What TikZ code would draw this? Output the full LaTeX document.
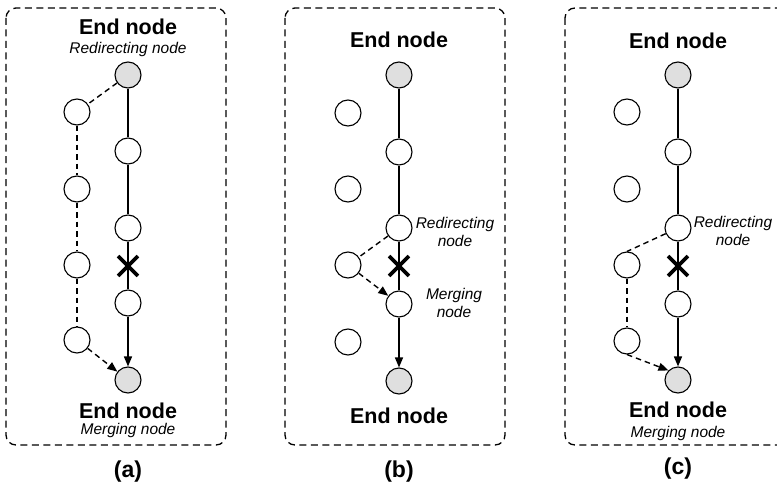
\documentclass[tikz,border=0pt]{standalone}
\usepackage{fontspec}
\setmainfont{Liberation Sans}
\usetikzlibrary{arrows.meta,shapes.misc}
\begin{document}
\begin{tikzpicture}[x=1pt,y=-1pt,
  vtx/.style={circle,draw,line width=1.1pt,minimum size=26pt,inner sep=0pt,fill=white},
  endv/.style={vtx,fill=gray!25},
  frame/.style={draw,dash pattern=on 7pt off 4.5pt,line width=1.3pt,rounded corners=10pt},
  mainln/.style={line width=1.5pt},
  altln/.style={line width=1.4pt,dash pattern=on 5.5pt off 4pt},
  tip/.style={-{Triangle[length=10pt,width=8pt]}},
  cut/.style={cross out,draw,line width=3.8pt,minimum size=16pt,inner sep=0pt},
  title/.style={font=\fontsize{21.5}{24}\selectfont\bfseries,anchor=base},
  role/.style={font=\fontsize{15.5}{18}\selectfont\itshape,anchor=base},
  caption/.style={font=\fontsize{23}{26}\selectfont\bfseries,anchor=base}]

\path[use as bounding box,clip] (0,0) rectangle (777,487);

% panel frames
\draw[frame] (6,8) rectangle (226,445);
\draw[frame] (285,8) rectangle (505,445);
\draw[frame] (565,8) rectangle (800,445);

% ---------- panel (a) ----------
\node[endv] (a0) at (128,75) {};
\node[vtx]  (a1) at (128,151) {};
\node[vtx]  (a2) at (128,228) {};
\node[vtx]  (a3) at (128,303) {};
\node[endv] (a4) at (128,380) {};
\node[vtx] (al1) at (77,112) {};
\node[vtx] (al2) at (77,189) {};
\node[vtx] (al3) at (77,265) {};
\node[vtx] (al4) at (77,340) {};
\draw[mainln] (a0) -- (a1);
\draw[mainln] (a1) -- (a2);
\draw[mainln] (a2) -- (a3);
\draw[mainln,tip] (a3) -- (a4);
\node[cut] (ax) at (128,266) {};
\draw[altln] (a0) -- (al1);
\draw[altln] (al1) -- (al2);
\draw[altln] (al2) -- (al3);
\draw[altln] (al3) -- (al4);
\draw[altln,tip] (al4) -- (a4);
\node[title] (at1) at (128,35) {End node};
\node[role]  (at2) at (128,54) {Redirecting node};
\node[title] (ab1) at (128,418) {End node};
\node[role]  (ab2) at (128,434) {Merging node};
\node[caption] (acap) at (128,477) {(a)};

% ---------- panel (b) ----------
\node[endv] (b0) at (399,75) {};
\node[vtx]  (b1) at (399,152) {};
\node[vtx]  (b2) at (399,228) {};
\node[vtx]  (b3) at (399,304) {};
\node[endv] (b4) at (399,381) {};
\node[vtx] (bl1) at (348,113) {};
\node[vtx] (bl2) at (348,189) {};
\node[vtx] (bl3) at (348,265) {};
\node[vtx] (bl4) at (348,342) {};
\draw[mainln] (b0) -- (b1);
\draw[mainln] (b1) -- (b2);
\draw[mainln] (b2) -- (b3);
\draw[mainln,tip] (b3) -- (b4);
\node[cut] (bx) at (399,266) {};
\draw[altln] (b2) -- (bl3);
\draw[altln,tip] (bl3) -- (b3);
\node[title] (bt1) at (399,48) {End node};
\node[title] (bb1) at (399,423) {End node};
\node[role] (br1) at (455,228) {Redirecting};
\node[role] (br2) at (455,246) {node};
\node[role] (bm1) at (454,299) {Merging};
\node[role] (bm2) at (454,317) {node};
\node[caption] (bcap) at (399,477) {(b)};

% ---------- panel (c) ----------
\node[endv] (c0) at (678,75) {};
\node[vtx]  (c1) at (678,152) {};
\node[vtx]  (c2) at (678,228) {};
\node[vtx]  (c3) at (678,304) {};
\node[endv] (c4) at (678,380) {};
\node[vtx] (cl1) at (627,112) {};
\node[vtx] (cl2) at (627,189) {};
\node[vtx] (cl3) at (627,265) {};
\node[vtx] (cl4) at (627,341) {};
\draw[mainln] (c0) -- (c1);
\draw[mainln] (c1) -- (c2);
\draw[mainln] (c2) -- (c3);
\draw[mainln,tip] (c3) -- (c4);
\node[cut] (cx) at (678,266) {};
\draw[altln] (c2) -- (cl3.north);
\draw[altln] (cl3) -- (cl4);
\draw[altln,tip] (cl4.south) -- (c4.north west);
\node[title] (ct1) at (678,49) {End node};
\node[role] (cr1) at (733,227) {Redirecting};
\node[role] (cr2) at (733,245) {node};
\node[title] (cb1) at (678,417) {End node};
\node[role]  (cb2) at (678,437) {Merging node};
\node[caption] (ccap) at (678,474) {(c)};
\end{tikzpicture}
\end{document}
